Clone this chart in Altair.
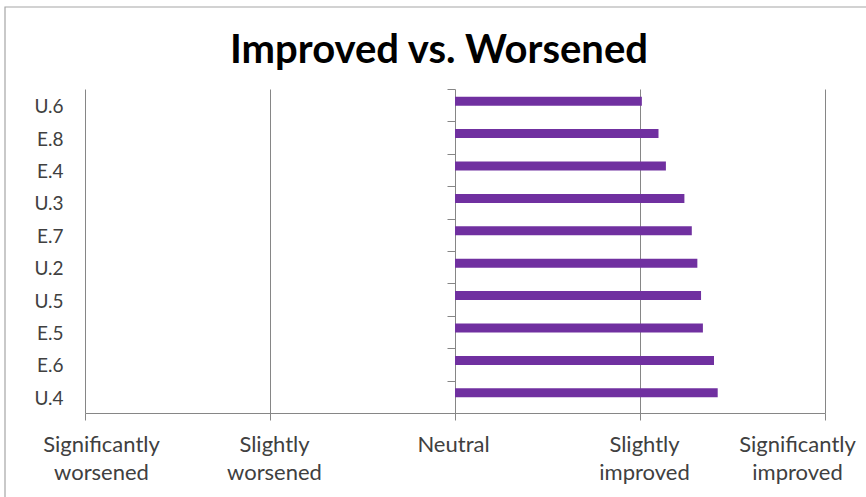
import altair as alt
import pandas as pd

# Survey items, top to bottom, and their mean change score (-2 .. +2)
items = ["U.6", "E.8", "E.4", "U.3", "E.7", "U.2", "U.5", "E.5", "E.6", "U.4"]
scores = [1.01, 1.10, 1.14, 1.24, 1.28, 1.31, 1.33, 1.34, 1.40, 1.42]

# Rating scale shown along the x axis
scale_values = [-2, -1, 0, 1, 2]
scale_labels = [
    ["Significantly", "worsened"],
    ["Slightly", "worsened"],
    ["Neutral"],
    ["Slightly", "improved"],
    ["Significantly", "improved"],
]

df = pd.DataFrame({"item": items, "score": scores})

GRID = "#868686"
TEXT = "#404040"
PURPLE = "#7030A0"

label_expr = "[" + ", ".join(
    "[" + ", ".join(f"'{w}'" for w in lines) + "]" for lines in scale_labels
) + f"][datum.value - ({scale_values[0]})]"

y_scale = alt.Scale(domain=items, paddingInner=0, paddingOuter=0)

base = alt.Chart(df)

bars = base.mark_bar(color=PURPLE, size=9, yOffset=-4).encode(
    x=alt.X(
        "score:Q",
        scale=alt.Scale(domain=[scale_values[0], scale_values[-1]], nice=False),
        axis=alt.Axis(
            values=scale_values,
            labelExpr=label_expr,
            title=None,
            grid=True,
            gridColor=GRID,
            gridWidth=1,
            domainColor=GRID,
            tickColor=GRID,
            tickSize=7,
            labelFont="Lato",
            labelFontSize=22,
            labelColor=TEXT,
            labelPadding=14,
            labelLineHeight=28,
            labelBaseline="top",
            labelFlush=False,
            labelOverlap=False,
            labelOffset={
                "condition": [
                    {"test": "datum.value == -2", "value": 16},
                    {"test": "datum.value == 0", "value": -2},
                    {"test": "datum.value == 2", "value": -28},
                ],
                "value": 4,
            },
        ),
    ),
    y=alt.Y(
        "item:N",
        sort=items,
        scale=y_scale,
        axis=alt.Axis(
            orient="left",
            title=None,
            domain=False,
            ticks=False,
            tickSize=0,
            grid=False,
            labelFont="Lato",
            labelFontSize=19,
            labelColor=TEXT,
            labelPadding=22,
            labelOffset=2,
        ),
    ),
)

# Category tick marks sitting on the neutral line
neutral_ticks = base.mark_tick(opacity=0).encode(
    y=alt.Y(
        "item:N",
        sort=items,
        scale=y_scale,
        axis=alt.Axis(
            orient="left",
            offset=-370,
            title=None,
            labels=False,
            domain=False,
            ticks=True,
            tickBand="extent",
            tickSize=8,
            tickColor=GRID,
            tickWidth=1,
            grid=False,
        ),
    ),
)

# Light outer frame of the chart area
frame = alt.Chart(pd.DataFrame({"f": [0]})).mark_rect(
    fill="transparent", stroke="#a6a6a6", strokeWidth=1.2
).encode(
    x=alt.value(-80), x2=alt.value(790), y=alt.value(-82), y2=alt.value(420)
)

chart = (
    alt.layer(frame, bars, neutral_ticks)
    .resolve_axis(y="independent")
    .properties(
        width=740,
        height=324,
        autosize=alt.AutoSizeParams(type="none"),
        padding={"left": 85, "top": 89, "right": 41, "bottom": 84},
        background="white",
        title=alt.TitleParams(
            "Improved vs. Worsened",
            font="Lato",
            fontSize=40,
            fontWeight="bold",
            color="#000000",
            anchor="middle",
            frame="group",
            baseline="alphabetic",
            offset=-97,
            dx=-16,
        ),
    )
    .configure_view(stroke=None)
)

chart.save("out.html", embed_options={"renderer": "svg", "actions": False})
